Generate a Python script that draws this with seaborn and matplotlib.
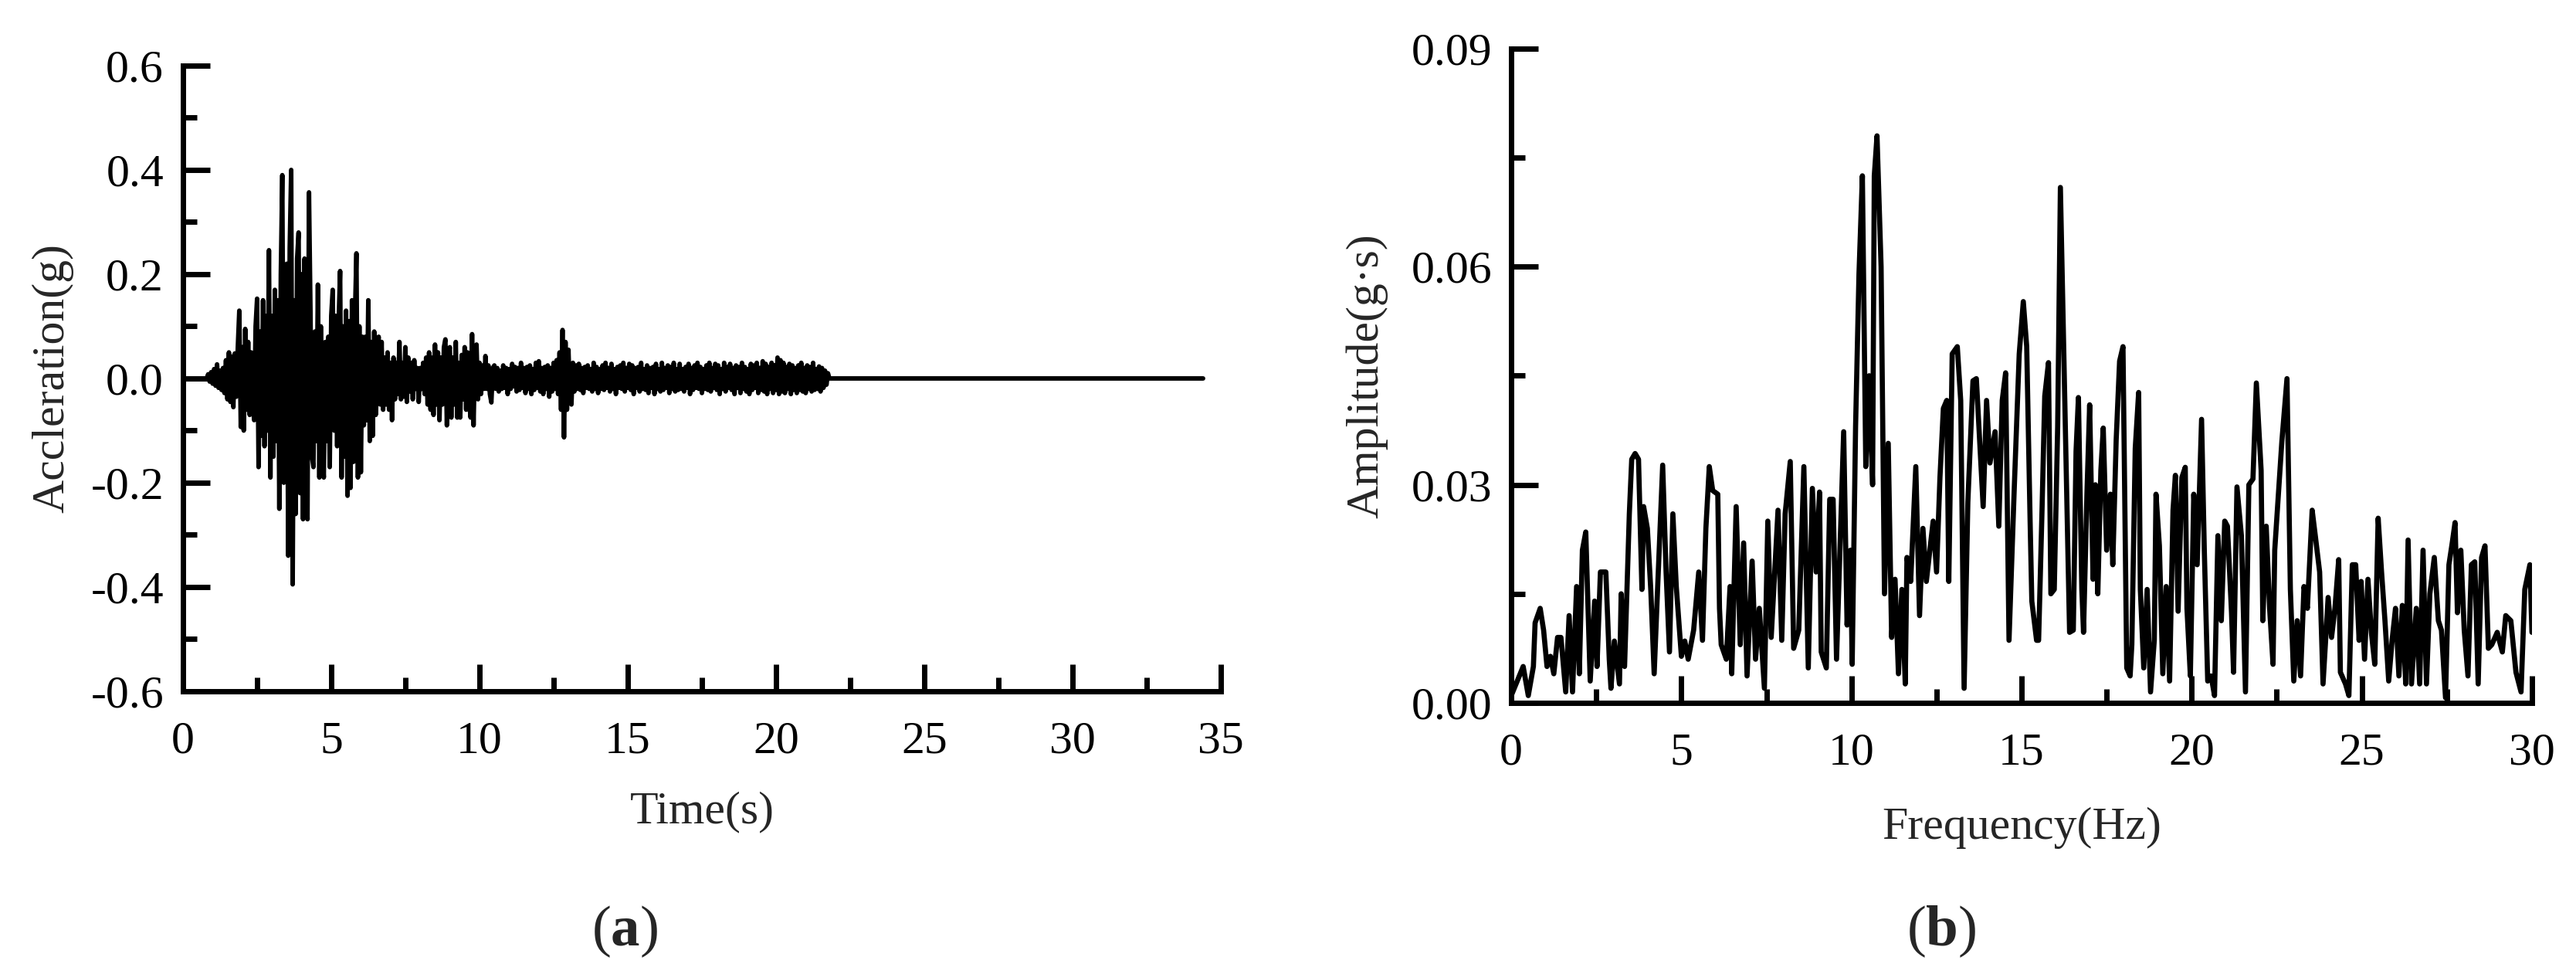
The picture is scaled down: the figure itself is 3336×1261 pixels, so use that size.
import numpy as np
import pandas as pd
import matplotlib
matplotlib.use("Agg")
import matplotlib.pyplot as plt
from matplotlib.ticker import MultipleLocator, FormatStrFormatter
import seaborn as sns

# (a) acceleration record, one value every 0.05 s starting at 0.8 s (one row = 1 s)
t_start = 0.8
dt = 0.05
acc = [
    0.000, 0.008, -0.006, 0.012, -0.010, 0.018, -0.014, 0.027, -0.018, 0.015, -0.022, 0.020, -0.028, 0.035, -0.040, 0.050, -0.045, 0.042, -0.055, 0.048,
    -0.035, 0.060, 0.130, -0.093, 0.060, -0.100, 0.095, -0.060, 0.070, -0.070, 0.050, -0.045, -0.080, 0.100, 0.153, -0.170, 0.090, -0.110, 0.150, -0.130,
    0.120, -0.100, 0.246, -0.190, 0.120, -0.150, 0.170, -0.120, 0.150, -0.250, 0.200, 0.390, -0.200, -0.180, 0.220, -0.340, 0.250, 0.400, -0.395, 0.150,
    -0.260, 0.230, 0.280, -0.220, 0.200, -0.270, 0.230, -0.200, -0.270, 0.357, 0.130, -0.150, -0.170, 0.090, -0.120, 0.180, -0.190, 0.100, -0.140, -0.190,
    0.070, -0.120, 0.080, -0.170, 0.120, 0.170, -0.100, 0.120, -0.130, 0.110, 0.206, -0.190, 0.100, -0.150, 0.130, -0.225, 0.110, -0.210, 0.150, -0.160,
    0.120, 0.240, -0.190, 0.100, -0.180, 0.080, -0.090, 0.080, -0.080, 0.150, -0.120, 0.070, -0.110, 0.090, -0.070, 0.060, 0.080, -0.050, 0.070, -0.060,
    0.040, -0.050, 0.050, -0.060, 0.030, -0.080, 0.040, -0.040, 0.030, -0.030, 0.070, -0.040, 0.030, -0.035, 0.060, -0.045, 0.040, -0.025, 0.030, -0.040,
    0.035, -0.020, 0.020, -0.045, 0.020, -0.020, 0.030, -0.030, 0.040, -0.050, 0.050, -0.060, 0.040, -0.070, 0.065, -0.050, 0.050, -0.080, 0.040, -0.050,
    0.060, 0.075, -0.090, 0.050, 0.060, -0.075, 0.040, -0.050, 0.070, -0.075, 0.030, -0.075, 0.045, -0.040, 0.060, -0.060, 0.050, -0.045, -0.075, 0.085,
    -0.090, 0.050, 0.065, -0.040, 0.030, -0.030, 0.025, -0.020, 0.043, -0.020, 0.025, -0.030, -0.046, 0.020, 0.025, -0.020, 0.020, -0.025, 0.015, -0.020,
    0.025, -0.018, 0.020, -0.030, 0.018, -0.020, 0.028, -0.015, 0.022, -0.025, 0.020, -0.022, 0.030, -0.018, 0.020, -0.028, 0.022, -0.020, 0.025, -0.030,
    0.018, -0.022, 0.030, -0.018, 0.033, -0.025, 0.020, -0.030, 0.022, -0.020, 0.025, -0.035, 0.020, -0.025, 0.030, -0.020, 0.035, -0.030, 0.050, -0.060,
    0.093, -0.113, 0.070, -0.060, 0.055, -0.040, -0.050, 0.030, -0.025, 0.025, -0.020, 0.028, -0.022, 0.020, -0.028, 0.022, -0.018, 0.025, -0.020, 0.018,
    -0.025, 0.030, -0.020, 0.022, -0.028, 0.018, -0.020, 0.025, -0.022, 0.030, -0.018, 0.020, -0.025, 0.028, -0.020, 0.018, -0.030, 0.022, -0.018, 0.025,
    -0.020, 0.030, -0.025, 0.020, -0.018, 0.028, -0.022, 0.025, -0.030, 0.020, -0.018, 0.022, -0.025, 0.030, -0.020, 0.018, -0.022, 0.025, -0.028, 0.020,
    -0.018, 0.022, -0.030, 0.028, -0.020, 0.018, -0.025, 0.030, -0.022, 0.020, -0.018, 0.025, -0.028, 0.022, -0.020, 0.030, -0.025, 0.018, -0.022, 0.028,
    -0.020, 0.018, -0.025, 0.022, -0.018, 0.028, -0.030, 0.020, -0.022, 0.025, -0.018, 0.030, -0.020, 0.022, -0.028, 0.018, -0.020, 0.025, -0.022, 0.030,
    -0.025, 0.020, -0.018, 0.028, -0.022, 0.025, -0.030, 0.018, -0.020, 0.030, -0.025, 0.022, -0.018, 0.028, -0.022, 0.020, -0.030, 0.025, -0.018, 0.022,
    -0.028, 0.030, -0.020, 0.022, -0.025, 0.018, -0.030, 0.028, -0.022, 0.025, -0.018, 0.030, -0.028, 0.020, -0.022, 0.033, -0.025, 0.028, -0.030, 0.022,
    -0.020, 0.030, -0.028, 0.025, -0.022, 0.040, -0.030, 0.035, -0.025, 0.030, -0.028, 0.022, -0.020, 0.028, -0.030, 0.025, -0.022, 0.020, -0.028, 0.025,
    -0.022, 0.030, -0.025, 0.020, -0.028, 0.025, -0.020, 0.022, -0.025, 0.030, -0.022, 0.018, -0.020, 0.023, -0.025, 0.020, -0.018, 0.015, -0.012, 0.010,
    0.000,
]
# record is flat after the shaking stops
tail_time = [34.4]
tail_acc = [0.0]

# (b) Fourier amplitude spectrum
freq = [
    0.0, 0.35, 0.5, 0.65, 0.7, 0.85, 0.95, 1.05, 1.15, 1.25, 1.36, 1.46, 1.6, 1.7, 1.8, 1.92, 2.0, 2.09, 2.19, 2.32,
    2.45, 2.52, 2.62, 2.78, 2.88, 2.93, 3.03, 3.18, 3.23, 3.33, 3.47, 3.54, 3.64, 3.74, 3.84, 3.89, 4.0, 4.1, 4.2, 4.3,
    4.45, 4.55, 4.65, 4.75, 4.85, 5.0, 5.1, 5.2, 5.36, 5.51, 5.62, 5.72, 5.82, 5.92, 6.07, 6.12, 6.17, 6.32, 6.43, 6.48,
    6.61, 6.73, 6.83, 6.93, 7.08, 7.18, 7.29, 7.44, 7.54, 7.64, 7.84, 7.95, 8.05, 8.2, 8.3, 8.45, 8.6, 8.73, 8.85, 8.96,
    9.06, 9.11, 9.26, 9.36, 9.46, 9.56, 9.66, 9.77, 9.87, 9.97, 10.02, 10.12, 10.22, 10.32, 10.42, 10.52, 10.62, 10.67, 10.75, 10.87,
    10.97, 11.08, 11.18, 11.28, 11.38, 11.48, 11.58, 11.63, 11.74, 11.89, 12.0, 12.1, 12.2, 12.4, 12.5, 12.6, 12.7, 12.8, 12.86, 12.96,
    13.11, 13.21, 13.31, 13.42, 13.57, 13.67, 13.87, 13.97, 14.07, 14.22, 14.33, 14.43, 14.53, 14.63, 14.78, 14.93, 15.05, 15.15, 15.25, 15.3,
    15.44, 15.5, 15.6, 15.68, 15.79, 15.86, 15.96, 16.06, 16.14, 16.24, 16.36, 16.41, 16.52, 16.6, 16.67, 16.77, 16.82, 16.92, 17.0, 17.1,
    17.17, 17.24, 17.33, 17.4, 17.5, 17.61, 17.68, 17.78, 17.88, 17.98, 18.09, 18.19, 18.24, 18.34, 18.44, 18.49, 18.59, 18.69, 18.79, 18.9,
    18.95, 19.05, 19.15, 19.25, 19.35, 19.45, 19.52, 19.6, 19.71, 19.81, 19.86, 19.96, 20.06, 20.16, 20.29, 20.37, 20.47, 20.57, 20.67, 20.77,
    20.87, 20.97, 21.05, 21.17, 21.23, 21.33, 21.46, 21.58, 21.68, 21.8, 21.9, 22.04, 22.09, 22.19, 22.29, 22.39, 22.44, 22.65, 22.8, 22.9,
    23.0, 23.1, 23.2, 23.3, 23.4, 23.54, 23.64, 23.76, 23.86, 24.01, 24.11, 24.21, 24.32, 24.37, 24.52, 24.62, 24.72, 24.82, 24.92, 24.98,
    25.08, 25.18, 25.28, 25.38, 25.48, 25.58, 25.68, 25.79, 25.89, 25.99, 26.09, 26.19, 26.29, 26.36, 26.46, 26.6, 26.7, 26.8, 26.9, 27.0,
    27.13, 27.25, 27.34, 27.46, 27.56, 27.66, 27.74, 27.81, 27.91, 28.01, 28.12, 28.22, 28.32, 28.42, 28.52, 28.62, 28.72, 28.82, 28.98, 29.13,
    29.23, 29.38, 29.53, 29.68, 29.79, 29.94, 30.0,
]
amp = [
    0.001, 0.005, 0.001, 0.005, 0.011, 0.013, 0.010, 0.005, 0.0064, 0.004, 0.009, 0.009, 0.0015, 0.012, 0.0015, 0.016, 0.004, 0.021, 0.0235, 0.003,
    0.014, 0.005, 0.018, 0.018, 0.006, 0.002, 0.0085, 0.0026, 0.015, 0.005, 0.026, 0.0335, 0.0343, 0.0335, 0.0156, 0.027, 0.024, 0.0156, 0.004, 0.0156,
    0.0327, 0.018, 0.007, 0.026, 0.016, 0.0064, 0.0085, 0.006, 0.010, 0.018, 0.0086, 0.024, 0.0325, 0.0292, 0.0287, 0.013, 0.008, 0.006, 0.016, 0.004,
    0.027, 0.008, 0.022, 0.0037, 0.0195, 0.006, 0.013, 0.002, 0.025, 0.009, 0.0265, 0.0086, 0.026, 0.0332, 0.0075, 0.010, 0.0325, 0.0048, 0.0295, 0.018,
    0.029, 0.007, 0.0048, 0.028, 0.028, 0.006, 0.021, 0.0373, 0.0107, 0.021, 0.0053, 0.038, 0.059, 0.0725, 0.0325, 0.045, 0.030, 0.0725, 0.078, 0.060,
    0.015, 0.0357, 0.009, 0.017, 0.004, 0.0156, 0.0026, 0.020, 0.0167, 0.0325, 0.012, 0.024, 0.0167, 0.025, 0.018, 0.031, 0.0405, 0.0416, 0.0167, 0.048,
    0.049, 0.0416, 0.002, 0.0276, 0.0443, 0.0446, 0.027, 0.0416, 0.033, 0.0373, 0.0243, 0.0416, 0.0454, 0.0086, 0.029, 0.048, 0.0552, 0.049, 0.025, 0.014,
    0.0086, 0.0086, 0.0265, 0.0422, 0.0468, 0.015, 0.0156, 0.038, 0.0709, 0.048, 0.021, 0.0097, 0.010, 0.0346, 0.042, 0.0156, 0.0097, 0.0287, 0.041, 0.017,
    0.030, 0.015, 0.032, 0.0378, 0.021, 0.0287, 0.019, 0.0362, 0.047, 0.049, 0.0048, 0.0037, 0.008, 0.035, 0.0427, 0.0156, 0.0048, 0.0156, 0.0015, 0.0086,
    0.0287, 0.0216, 0.004, 0.016, 0.003, 0.0265, 0.0313, 0.0126, 0.031, 0.0324, 0.013, 0.0037, 0.0287, 0.019, 0.039, 0.021, 0.003, 0.0037, 0.001, 0.023,
    0.0113, 0.025, 0.0243, 0.0124, 0.0042, 0.0297, 0.023, 0.0015, 0.030, 0.0308, 0.044, 0.032, 0.0113, 0.0243, 0.013, 0.0053, 0.021, 0.036, 0.0446, 0.0156,
    0.003, 0.0113, 0.0037, 0.016, 0.013, 0.0265, 0.0227, 0.018, 0.0026, 0.0145, 0.009, 0.013, 0.0197, 0.0042, 0.0026, 0.001, 0.019, 0.019, 0.0086, 0.0167,
    0.006, 0.017, 0.0097, 0.0053, 0.0254, 0.018, 0.0113, 0.003, 0.0086, 0.013, 0.0037, 0.0134, 0.0026, 0.0224, 0.0026, 0.013, 0.0026, 0.021, 0.0026, 0.015,
    0.020, 0.0113, 0.010, 0.0007, 0.019, 0.0221, 0.0248, 0.0124, 0.021, 0.010, 0.0037, 0.019, 0.0194, 0.0026, 0.020, 0.0216, 0.0075, 0.008, 0.0097, 0.007,
    0.012, 0.0113, 0.0042, 0.0015, 0.0156, 0.019, 0.0097,
]

time = t_start + dt * np.arange(len(acc))
df_acc = pd.DataFrame({"time": np.concatenate([time, tail_time]),
                       "acc": np.concatenate([acc, tail_acc])})
df_amp = pd.DataFrame({"freq": freq, "amp": amp})

sns.set_style("ticks")
plt.rcParams["font.family"] = ["Liberation Serif", "DejaVu Serif"]
plt.rcParams["axes.unicode_minus"] = False
plt.rcParams["mathtext.fontset"] = "custom"
plt.rcParams["mathtext.bf"] = "Liberation Serif:bold"
plt.rcParams["mathtext.rm"] = "Liberation Serif"

fig = plt.figure(figsize=(33.37, 12.61), dpi=100)
ax1 = fig.add_axes([0.0710, 0.2903, 0.4028, 0.6423])
ax2 = fig.add_axes([0.5865, 0.2784, 0.3961, 0.6717])

sns.lineplot(data=df_acc, x="time", y="acc", ax=ax1, color="black", lw=4.2,
             estimator=None, sort=False)
sns.lineplot(data=df_amp, x="freq", y="amp", ax=ax2, color="black", lw=4.8,
             estimator=None, sort=False)

# grafico (a)
ax1.set_xlim(0, 35)
ax1.set_ylim(-0.6, 0.6)
ax1.xaxis.set_major_locator(MultipleLocator(5))
ax1.xaxis.set_minor_locator(MultipleLocator(2.5))
ax1.yaxis.set_major_locator(MultipleLocator(0.2))
ax1.yaxis.set_minor_locator(MultipleLocator(0.1))
ax1.yaxis.set_major_formatter(FormatStrFormatter("%.1f"))
ax1.set_xlabel("Time(s)", fontsize=43, labelpad=26)
ax1.set_ylabel("Accleration(g)", fontsize=43, labelpad=16)

# grafico (b)
ax2.set_xlim(0, 30)
ax2.set_ylim(0, 0.09)
ax2.xaxis.set_major_locator(MultipleLocator(5))
ax2.xaxis.set_minor_locator(MultipleLocator(2.5))
ax2.yaxis.set_major_locator(MultipleLocator(0.03))
ax2.yaxis.set_minor_locator(MultipleLocator(0.015))
ax2.yaxis.set_major_formatter(FormatStrFormatter("%.2f"))
ax2.set_xlabel("Frequency(Hz)", fontsize=43, labelpad=30)
ax2.set_ylabel("Amplitude(g·s)", fontsize=43, labelpad=22)

for ax in (ax1, ax2):
    sns.despine(ax=ax)
    for s in ("left", "bottom"):
        ax.spines[s].set_linewidth(5)
        ax.spines[s].set_color("black")
    ax.tick_params(which="major", direction="in", length=25, width=5,
                   labelsize=43, colors="black")
    ax.tick_params(which="minor", direction="in", length=13, width=5, colors="black")
    ax.tick_params(axis="x", which="major", pad=28)
    ax.tick_params(axis="y", which="major", pad=18)

fig.text(0.2425, 0.0436, r"($\mathbf{a}$)", fontsize=54, ha="center", va="center")
fig.text(0.7535, 0.0436, r"($\mathbf{b}$)", fontsize=54, ha="center", va="center")

fig.savefig("out.png", dpi=100, facecolor="white")
